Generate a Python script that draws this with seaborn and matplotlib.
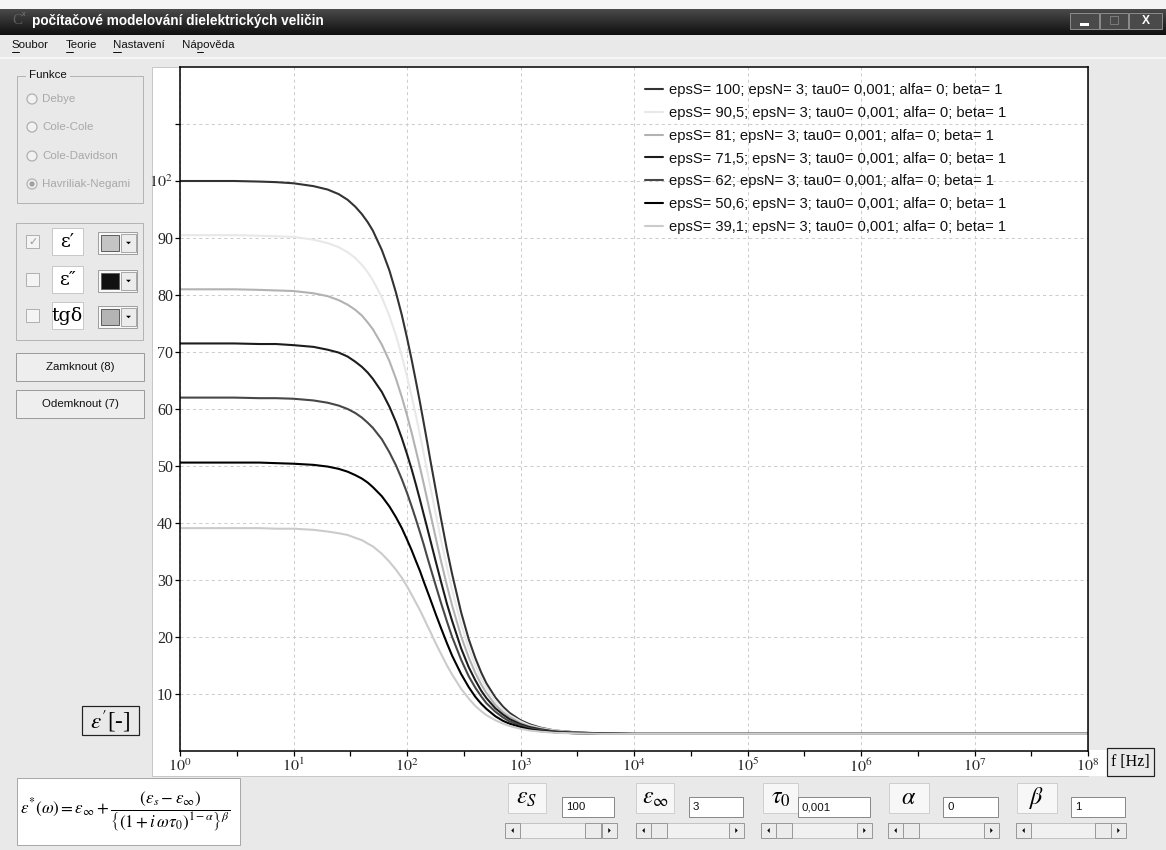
import numpy as np
import pandas as pd
import matplotlib
matplotlib.use("Agg")
import matplotlib.pyplot as plt
import seaborn as sns
from matplotlib.patches import Rectangle, Ellipse, Polygon
from matplotlib.lines import Line2D
from matplotlib.ticker import FixedLocator, NullFormatter

# ---------------- data ----------------
freq_hz = [1, 3, 5, 7, 10, 15, 20, 25, 30, 35, 40, 45, 50, 60, 70, 80, 90, 100, 110, 120,
           130, 140, 150, 160, 180, 200, 225, 250, 300, 350, 400, 450, 500, 600, 700, 800,
           1000, 1200, 1500, 2000, 3000, 5000, 1e4, 1e8]

eps_100 = [100.0, 100.0, 99.9, 99.8, 99.6, 99.1, 98.5, 97.7, 96.7, 95.5, 94.2, 92.8, 91.3, 87.9,
           84.3, 80.4, 76.5, 72.5, 68.6, 64.8, 61.2, 57.7, 54.4, 51.2, 45.6, 40.6, 35.3, 31.0,
           24.3, 19.6, 16.3, 13.8, 11.9, 9.4, 7.8, 6.7, 5.4, 4.7, 4.1, 3.6, 3.3, 3.1, 3.0, 3.0]
eps_90_5 = [90.5, 90.5, 90.4, 90.3, 90.2, 89.7, 89.1, 88.4, 87.5, 86.5, 85.3, 84.0, 82.6, 79.6,
            76.3, 72.9, 69.3, 65.7, 62.2, 58.8, 55.5, 52.3, 49.3, 46.5, 41.4, 36.9, 32.2, 28.2,
            22.2, 18.0, 15.0, 12.7, 11.1, 8.8, 7.3, 6.3, 5.2, 4.5, 4.0, 3.6, 3.2, 3.1, 3.0, 3.0]
eps_81 = [81.0, 81.0, 80.9, 80.8, 80.7, 80.3, 79.8, 79.1, 78.3, 77.4, 76.4, 75.2, 74.0, 71.3,
          68.4, 65.3, 62.1, 58.9, 55.8, 52.7, 49.8, 47.0, 44.3, 41.8, 37.2, 33.2, 29.0, 25.5,
          20.1, 16.4, 13.7, 11.7, 10.2, 8.1, 6.8, 6.0, 4.9, 4.3, 3.9, 3.5, 3.2, 3.1, 3.0, 3.0]
eps_71_5 = [71.5, 71.5, 71.4, 71.4, 71.2, 70.9, 70.4, 69.9, 69.2, 68.3, 67.4, 66.4, 65.3, 63.0,
            60.4, 57.7, 54.9, 52.1, 49.4, 46.7, 44.1, 41.6, 39.3, 37.1, 33.1, 29.6, 25.8, 22.8,
            18.0, 14.7, 12.4, 10.6, 9.3, 7.5, 6.4, 5.6, 4.7, 4.2, 3.8, 3.4, 3.2, 3.1, 3.0, 3.0]
eps_62 = [62.0, 62.0, 61.9, 61.9, 61.8, 61.5, 61.1, 60.6, 60.0, 59.3, 58.5, 57.6, 56.7, 54.7,
          52.4, 50.1, 47.7, 45.3, 42.9, 40.6, 38.4, 36.3, 34.2, 32.3, 28.9, 25.9, 22.7, 20.0,
          16.0, 13.1, 11.1, 9.6, 8.4, 6.9, 5.9, 5.2, 4.5, 4.0, 3.7, 3.4, 3.2, 3.1, 3.0, 3.0]
eps_50_6 = [50.6, 50.6, 50.6, 50.5, 50.4, 50.2, 49.9, 49.5, 49.0, 48.4, 47.8, 47.1, 46.3, 44.7,
            42.9, 41.0, 39.1, 37.1, 35.2, 33.3, 31.6, 29.8, 28.2, 26.7, 23.9, 21.5, 18.9, 16.7,
            13.5, 11.2, 9.5, 8.3, 7.4, 6.1, 5.3, 4.8, 4.2, 3.8, 3.5, 3.3, 3.1, 3.0, 3.0, 3.0]
eps_39_1 = [39.1, 39.1, 39.1, 39.0, 39.0, 38.8, 38.5, 38.2, 37.9, 37.4, 37.0, 36.4, 35.9, 34.6,
            33.2, 31.8, 30.4, 28.9, 27.4, 26.0, 24.7, 23.4, 22.1, 21.0, 18.8, 17.0, 15.0, 13.4,
            10.9, 9.2, 7.9, 7.0, 6.3, 5.4, 4.8, 4.4, 3.9, 3.6, 3.4, 3.2, 3.1, 3.0, 3.0, 3.0]

series_labels = [
    "epsS= 100; epsN= 3; tau0= 0,001; alfa= 0; beta= 1",
    "epsS= 90,5; epsN= 3; tau0= 0,001; alfa= 0; beta= 1",
    "epsS= 81; epsN= 3; tau0= 0,001; alfa= 0; beta= 1",
    "epsS= 71,5; epsN= 3; tau0= 0,001; alfa= 0; beta= 1",
    "epsS= 62; epsN= 3; tau0= 0,001; alfa= 0; beta= 1",
    "epsS= 50,6; epsN= 3; tau0= 0,001; alfa= 0; beta= 1",
    "epsS= 39,1; epsN= 3; tau0= 0,001; alfa= 0; beta= 1",
]
x_tick_values = [1, 10, 100, 1e3, 1e4, 1e5, 1e6, 1e7, 1e8]
x_tick_labels = [r"$10^{0}$", r"$10^{1}$", r"$10^{2}$", r"$10^{3}$", r"$10^{4}$",
                 r"$10^{5}$", r"$10^{6}$", r"$10^{7}$", r"$10^{8}$"]
y_tick_values = [10, 20, 30, 40, 50, 60, 70, 80, 90, 100, 110]
y_tick_labels = ["10", "20", "30", "40", "50", "60", "70", "80", "90", r"$10^{2}$", ""]

# ---------------- styles ----------------
series_colors = ["#333333", "#e8e8e8", "#b2b2b2", "#1c1c1c", "#474747", "#000000", "#cbcbcb"]
BG = "#e9e9e9"
SANS = ["Liberation Sans", "DejaVu Sans"]
SERIF = ["Liberation Serif", "DejaVu Serif"]

sns.set_style("white")
plt.rcParams["font.family"] = SANS
plt.rcParams["mathtext.fontset"] = "stix"

W, H = 1166, 850
fig = plt.figure(figsize=(W / 100, H / 100), dpi=100, facecolor=BG)


def rect(x, y, w, h, fc="none", ec="none", lw=1.0, z=1):
    r = Rectangle((x / W, 1 - (y + h) / H), w / W, h / H, transform=fig.transFigure,
                  facecolor=fc, edgecolor=ec, linewidth=lw * 0.72, zorder=z)
    fig.add_artist(r)
    return r


def text(x, y, s, px, ha="left", va="center", color="black", family=None, **kw):
    return fig.text(x / W, 1 - y / H, s, fontsize=px * 0.72, ha=ha, va=va, color=color,
                    family=family if family is not None else SANS, **kw)


def hline(x0, x1, y, color, lw=1.0, z=2):
    fig.add_artist(Line2D([x0 / W, x1 / W], [1 - y / H, 1 - y / H], transform=fig.transFigure,
                          color=color, linewidth=lw * 0.72, zorder=z))


def circle(xc, yc, r, fc, ec, z=2):
    e = Ellipse((xc / W, 1 - yc / H), 2 * r / W, 2 * r / H, transform=fig.transFigure,
                facecolor=fc, edgecolor=ec, linewidth=0.9, zorder=z)
    fig.add_artist(e)


def tri(xc, yc, direction, size=3, color="black"):
    if direction == "left":
        pts = [(xc + size / 2, yc - size), (xc + size / 2, yc + size), (xc - size / 2, yc)]
    elif direction == "right":
        pts = [(xc - size / 2, yc - size), (xc - size / 2, yc + size), (xc + size / 2, yc)]
    else:
        pts = [(xc - size, yc - size / 2), (xc + size, yc - size / 2), (xc, yc + size / 2)]
    p = Polygon([(px / W, 1 - py / H) for px, py in pts], closed=True, transform=fig.transFigure,
                facecolor=color, edgecolor="none", zorder=4)
    fig.add_artist(p)


# ---------------- window chrome ----------------
rect(0, 0, W, 9, fc="#f4f4f4", z=1)
ax_t = fig.add_axes([0, 1 - 35 / H, 1, 26 / H])
grad = np.linspace(0.30, 0.06, 50).reshape(-1, 1)
ax_t.imshow(grad, aspect="auto", cmap="gray", vmin=0, vmax=1, extent=[0, 1, 0, 1])
ax_t.set_axis_off()
text(12, 21, "C", 15, color="#606060", family=SERIF, zorder=5)
text(22, 14, "x", 7, color="#808080", zorder=5)
text(32, 21, "počítačové modelování dielektrických veličin", 13.6, color="white",
     weight="bold", zorder=5)
for bx, bw, glyph in [(1070, 29, "min"), (1100, 28, "max"), (1129, 33, "x")]:
    rect(bx, 13, bw, 16, fc="#4a4a4a", ec="#8a8a8a", lw=1, z=3)
    if glyph == "min":
        rect(bx + 10, 23, 9, 2.5, fc="white", z=4)
    elif glyph == "max":
        rect(bx + 10, 16, 8, 8, fc="none", ec="#7a7a7a", lw=1, z=4)
    else:
        text(bx + bw / 2, 21, "X", 12, ha="center", color="white", weight="bold", zorder=5)

# menu
for mx, word, ux0, ux1 in [(12, "Soubor", 12, 19), (66, "Teorie", 66, 73),
                           (113, "Nastavení", 113, 121), (182, "Nápověda", 197, 203)]:
    text(mx, 45, word, 11.5, color="#111111")
    hline(ux0, ux1, 51.5, "#111111")
hline(0, W, 57.5, "#fbfbfb", lw=1.5)

# ---------------- left panel ----------------
rect(17, 76, 126, 127, ec="#b4b4b4", z=1)
rect(26, 68, 44, 14, fc=BG, z=2)
text(29, 75, "Funkce", 11.5, color="#111111", zorder=5)
for ry, name in [(99, "Debye"), (127, "Cole-Cole"), (156, "Cole-Davidson"), (184, "Havriliak-Negami")]:
    circle(32, ry, 5, "#f2f2f2", "#b0b0b0")
    text(42, ry, name, 11.5, color="#a8a8a8", zorder=5)
circle(32, 184, 2, "#a0a0a0", "#a0a0a0", z=3)

rect(16, 223, 127, 117, ec="#b4b4b4", z=1)
sym_rows = [(242, "ε′", "#c4c4c4"), (280, "ε″", "#111111"), (316, "tgδ", "#b4b4b4")]
for i, (cy, sym, swatch) in enumerate(sym_rows):
    rect(26, cy - 7, 13, 13, fc="#f4f4f4", ec="#b0b0b0", z=2)
    if i == 0:
        text(32.5, cy, "✓", 11, ha="center", color="#9a9a9a", family=["DejaVu Sans"], zorder=5)
    rect(52, cy - 14, 31, 27, fc="white", ec="#c8c8c8", z=2)
    text(67.5, cy, sym, 19, ha="center", family=["DejaVu Serif"], zorder=5)
    rect(98, cy - 10, 39, 22, fc="#f8f8f8", ec="#a0a0a0", z=2)
    rect(101, cy - 7, 18, 16, fc=swatch, ec="#606060", z=3)
    rect(121, cy - 8, 15, 18, fc="#ececec", ec="#a8a8a8", z=3)
    tri(128.5, cy + 1, "down", size=2.5)

for by, label in [(353, "Zamknout (8)"), (390, "Odemknout (7)")]:
    rect(16, by, 128, 28, fc="#eeeeee", ec="#9c9c9c", z=2)
    text(80, by + 14, label, 11.5, ha="center", color="#111111", zorder=5)

# epsilon' [-] label box
rect(82, 706, 57, 29, fc=BG, ec="#222222", lw=1.2, z=2)
text(110.5, 720.5, r"$\varepsilon'$[-]", 23, ha="center", family=SERIF, zorder=5)

# ---------------- chart panel ----------------
rect(152, 67, 936, 709, fc="white", ec="#c8c8c8", z=-2)
rect(1088, 750, 19, 26, fc="white", z=-2)
rect(1107, 748, 47, 28, fc=BG, ec="#222222", lw=1.2, z=2)
text(1130.5, 762, "f [Hz]", 16, ha="center", family=SERIF, zorder=5)

ax = fig.add_axes([180 / W, 1 - 751 / H, 908 / W, 684 / H])
ax.set_facecolor("white")
ax.set_xscale("log")

for vals, lab, col in zip([eps_100, eps_90_5, eps_81, eps_71_5, eps_62, eps_50_6, eps_39_1],
                          series_labels, series_colors):
    sns.lineplot(x=freq_hz, y=vals, ax=ax, color=col, linewidth=1.5, label=lab,
                 estimator=None, sort=False)

ax.set_xlim(1, 1e8)
ax.set_ylim(0, 120)
ax.set_xlabel("")
ax.set_ylabel("")
ax.xaxis.set_major_locator(FixedLocator(x_tick_values))
ax.set_xticklabels(x_tick_labels)
ax.xaxis.set_minor_locator(FixedLocator([10 ** (i + 0.5) for i in range(8)]))
ax.xaxis.set_minor_formatter(NullFormatter())
ax.yaxis.set_major_locator(FixedLocator(y_tick_values))
ax.set_yticklabels(y_tick_labels)
ax.yaxis.set_minor_locator(FixedLocator([]))
ax.tick_params(axis="both", which="both", direction="out", length=3.5, width=0.9,
               color="black", labelsize=11.5, pad=1.5, left=True, bottom=True)
for lbl in ax.get_yticklabels() + ax.get_xticklabels():
    lbl.set_fontfamily(SERIF)
ax.grid(True, which="major", color="#cdcdcd", linestyle=(0, (3, 3)), linewidth=0.75)
for side in ["left", "bottom", "top", "right"]:
    ax.spines[side].set_visible(True)
    ax.spines[side].set_color("black")
    ax.spines[side].set_linewidth(1.1)

leg = ax.legend(loc="upper left", bbox_to_anchor=(645 / W, 1 - 83 / H), bbox_transform=fig.transFigure,
                frameon=False, prop={"family": SANS, "size": 10.6}, handlelength=1.25,
                handletextpad=0.35, labelspacing=0.6, borderpad=0, borderaxespad=0)
for t in leg.get_texts():
    t.set_color("#111111")

# ---------------- bottom panel ----------------
rect(17, 778, 223, 67, fc="white", ec="#a8a8a8", z=2)
text(20, 811,
     r"$\varepsilon^{*}(\omega)=\varepsilon_{\infty}+\dfrac{(\varepsilon_{s}-\varepsilon_{\infty})}"
     r"{\left\{\left(1+i\,\omega\tau_{0}\right)^{1-\alpha}\right\}^{\beta}}$",
     17, zorder=5)

params = [
    (508, 38, r"$\varepsilon_{S}$", 562, 52, "100", 505, 112, 585),
    (636, 38, r"$\varepsilon_{\infty}$", 689, 54, "3", 636, 108, 651),
    (763, 35, r"$\tau_{0}$", 798, 72, "0,001", 761, 111, 776),
    (889, 40, r"$\alpha$", 943, 55, "0", 888, 111, 903),
    (1017, 40, r"$\beta$", 1071, 54, "1", 1016, 110, 1095),
]
for bx, bw, sym, tx, tw, val, sx, sw, thumb in params:
    rect(bx, 783, bw, 30, fc="#f7f7f7", ec="#cfcfcf", z=2)
    text(bx + bw / 2, 798, sym, 24, ha="center", zorder=5)
    rect(tx, 797, tw, 20, fc="white", ec="#8a8a8a", z=2)
    text(tx + 4, 807.5, val, 11.5, color="#111111", zorder=5)
    rect(sx, 823, sw, 15, fc="#f1f1f1", ec="#c4c4c4", z=2)
    rect(sx, 823, 15, 15, fc="#ececec", ec="#9a9a9a", z=3)
    tri(sx + 7.5, 830.5, "left", size=2.5)
    rect(sx + sw - 15, 823, 15, 15, fc="#ececec", ec="#9a9a9a", z=3)
    tri(sx + sw - 7.5, 830.5, "right", size=2.5)
    rect(thumb, 823, 16, 15, fc="#ececec", ec="#9a9a9a", z=3)

fig.savefig("out.png", dpi=100, facecolor=BG)
